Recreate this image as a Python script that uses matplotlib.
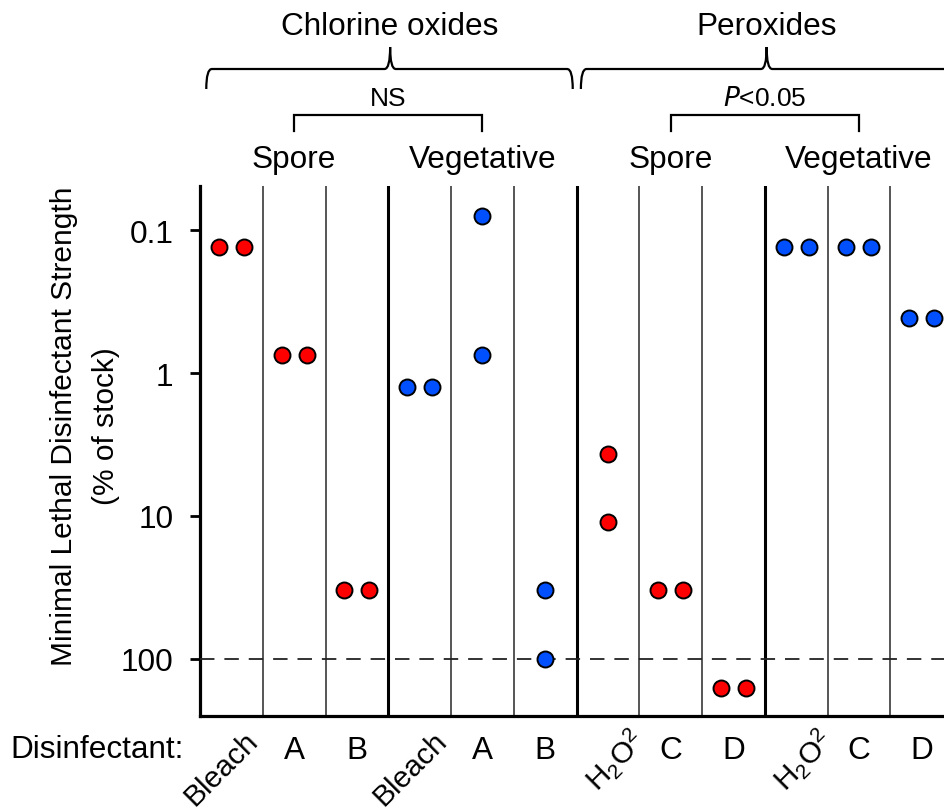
import matplotlib
matplotlib.use("Agg")
import matplotlib.pyplot as plt
import matplotlib.transforms as mtransforms
from matplotlib.path import Path
from matplotlib.patches import PathPatch
import numpy as np

plt.rcParams['font.family'] = ['Liberation Sans', 'DejaVu Sans']
plt.rcParams['mathtext.default'] = 'regular'

# ---- data ----
labels = ['Bleach', 'A', 'B', 'Bleach', 'A', 'B',
          'H$_2$O$^2$', 'C', 'D', 'H$_2$O$^2$', 'C', 'D']
label_rot = [True, False, False, True, False, False,
             True, False, False, True, False, False]
cell = ['Spore'] * 3 + ['Vegetative'] * 3 + ['Spore'] * 3 + ['Vegetative'] * 3
# each column: two replicate values (% of stock)
rep1 = [0.13, 0.75, 33, 1.25, 0.08, 33, 3.7, 33, 160, 0.13, 0.13, 0.41]
rep2 = [0.13, 0.75, 33, 1.25, 0.75, 100, 11, 33, 160, 0.13, 0.13, 0.41]
yticks = [0.1, 1, 10, 100]
ytick_labels = ['0.1', '1', '10', '100']
limit = 100

RED = '#FF0000'
BLUE = '#0050FF'
FS = 22.7

W, H = 944, 812
fig = plt.figure(figsize=(W / 100, H / 100), dpi=100)
ax_l, ax_r, ax_t, ax_b = 200, 953, 187, 717
ax = fig.add_axes([ax_l / W, 1 - ax_b / H, (ax_r - ax_l) / W, (ax_b - ax_t) / H])

ax.set_yscale('log')
ax.set_ylim(10 ** 2.40, 10 ** -1.31)
ax.set_xlim(0, 12)

n = len(labels)
for i in range(n):
    color = RED if cell[i] == 'Spore' else BLUE
    c = i + 0.5
    if rep1[i] == rep2[i]:
        xs = [c - 0.2, c + 0.2]
    else:
        xs = [c, c]
    ax.plot(xs, [rep1[i], rep2[i]], 'o', ms=11.5, mfc=color, mec='black',
            mew=1.4, ls='none', zorder=5, clip_on=False)

# dividers
for k in range(1, n):
    if k % 3 == 0:
        ax.axvline(k, color='black', lw=2.2, zorder=2)
    else:
        ax.axvline(k, color='#555555', lw=1.4, zorder=2)

ax.axhline(limit, color='#222222', lw=1.3, dashes=(8, 5.5), zorder=3)

for s in ['top', 'right']:
    ax.spines[s].set_visible(False)
for s in ['left', 'bottom']:
    ax.spines[s].set_linewidth(2.3)
ax.set_yticks(yticks)
ax.set_yticklabels(ytick_labels)
ax.yaxis.set_minor_locator(matplotlib.ticker.NullLocator())
ax.tick_params(axis='y', length=7, width=2, labelsize=FS, pad=12)
ax.set_xticks([])

# y label
fig.text(64 / W, 1 - 426 / H, 'Minimal Lethal Disinfectant Strength',
         rotation=90, ha='center', va='center', fontsize=21.5)
fig.text(106 / W, 1 - 426 / H, '(% of stock)',
         rotation=90, ha='center', va='center', fontsize=21.5)

# x labels
tx = mtransforms.blended_transform_factory(ax.transData, fig.transFigure)
fig.text(10 / W, 1 - 750 / H, 'Disinfectant:', ha='left', va='center', fontsize=FS)
for i, lab in enumerate(labels):
    c = i + 0.5
    if label_rot[i]:
        dx = 0.45 if lab == 'Bleach' else 0.62
        ax.text(c + dx, 1 - 742 / H, lab, rotation=45, rotation_mode='anchor',
                ha='right', va='baseline', fontsize=21.5, transform=tx, clip_on=False)
    else:
        ax.text(c, 1 - 751 / H, lab, ha='center', va='center', fontsize=FS,
                transform=tx, clip_on=False)

# headers
for c0, name in [(1.5, 'Spore'), (4.5, 'Vegetative'), (7.5, 'Spore'), (10.5, 'Vegetative')]:
    ax.text(c0, 1 - 160 / H, name, ha='center', va='center', fontsize=FS,
            transform=tx, clip_on=False)

def fy(px):
    return 1 - px / H

# small brackets
for (xa, xb, txt) in [(1.5, 4.5, 'NS'), (7.5, 10.5, '$\\mathit{P}$<0.05')]:
    ax.plot([xa, xa, xb, xb], [fy(132), fy(116), fy(116), fy(132)], color='black',
            lw=1.6, transform=tx, clip_on=False, solid_joinstyle='miter')
    ax.text((xa + xb) / 2, fy(99), txt, ha='center', va='center', fontsize=19,
            transform=tx, clip_on=False)

# curly braces
def brace(x0, xm, x1, y_h, y_end, y_peak, r=0.09):
    verts = [(x0, fy(y_end)), (x0, fy(y_h)), (x0 + r, fy(y_h)),
             (xm - r, fy(y_h)), (xm, fy(y_h)), (xm, fy(y_peak)),
             (xm, fy(y_h)), (xm + r, fy(y_h)),
             (x1 - r, fy(y_h)), (x1, fy(y_h)), (x1, fy(y_end))]
    codes = [Path.MOVETO, Path.CURVE3, Path.CURVE3,
             Path.LINETO, Path.CURVE3, Path.CURVE3,
             Path.CURVE3, Path.CURVE3,
             Path.LINETO, Path.CURVE3, Path.CURVE3]
    p = PathPatch(Path(verts, codes), fill=False, lw=1.6, color='black',
                  transform=tx, clip_on=False)
    ax.add_patch(p)

brace(0.1, 3.03, 5.94, 70, 90, 48)
brace(6.07, 9.03, 12.0, 70, 90, 48)
ax.text(3.03, fy(27), 'Chlorine oxides', ha='center', va='center', fontsize=FS,
        transform=tx, clip_on=False)
ax.text(9.03, fy(27), 'Peroxides', ha='center', va='center', fontsize=FS,
        transform=tx, clip_on=False)

fig.savefig('out.png', dpi=100)
